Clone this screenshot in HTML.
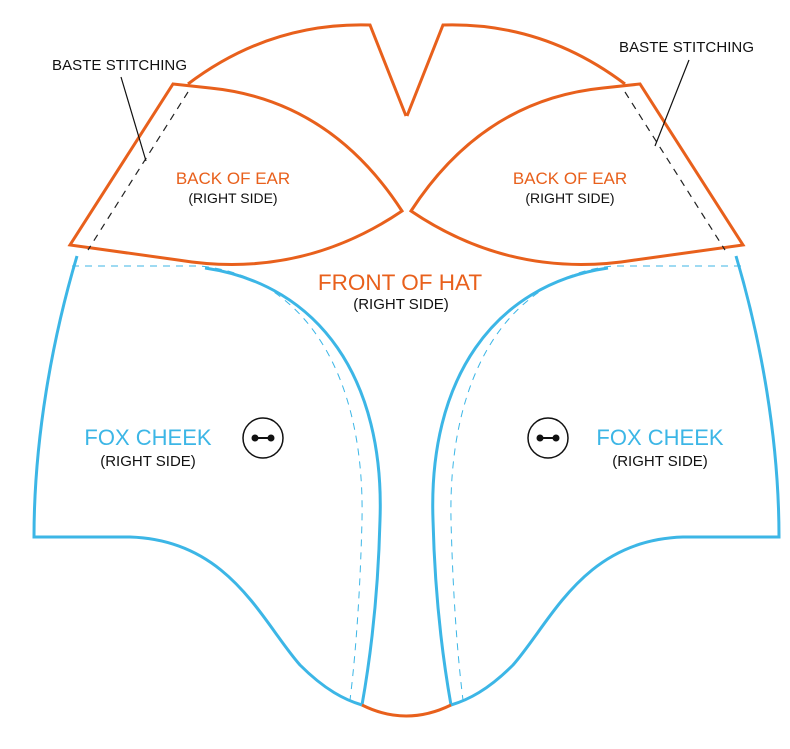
<!DOCTYPE html>
<html><head><meta charset="utf-8"><style>
html,body{margin:0;padding:0;background:#fff;width:790px;height:749px;overflow:hidden}
text{font-family:"Liberation Sans",sans-serif}
</style></head><body>
<svg width="790" height="749" viewBox="0 0 790 749" xmlns="http://www.w3.org/2000/svg">
<defs>
<g id="half">
  <path d="M188,84 Q270,22 370,25 L406,116" fill="none" stroke="#e8601c" stroke-width="3"/>
  <path d="M173,84 L210,88 Q330,100 402,211 Q300,280 178,260 Q120,252 70,245 Z" fill="#fff" stroke="#e8601c" stroke-width="3" stroke-linejoin="miter"/>
  <path d="M188,92 L88,250" stroke="#222" stroke-width="1.2" stroke-dasharray="7,6" fill="none"/>
  <path d="M77,256 C52,340 34,440 34,537 L130,537 C230,540 262,622 300,665 C325,690 345,700 362,705" fill="none" stroke="#3cb6e6" stroke-width="3"/>
  <path d="M205,268 C320,285 385,380 380,520 C378,600 370,660 362,705" fill="none" stroke="#3cb6e6" stroke-width="3"/>
  <path d="M72,266 L200,266 C305,276 365,375 362,520 C360,600 355,660 350,700" fill="none" stroke="#3cb6e6" stroke-width="1" stroke-dasharray="7,6"/>
</g>
</defs>
<use href="#half"/>
<use href="#half" transform="translate(813,0) scale(-1,1)"/>
<path d="M362,705 Q406,727 451,705" fill="none" stroke="#e8601c" stroke-width="3"/>

<g stroke="#111" fill="none">
<circle cx="263" cy="438" r="20" stroke-width="1.5"/>
<line x1="255" y1="438" x2="271" y2="438" stroke-width="2"/>
<circle cx="548" cy="438" r="20" stroke-width="1.5"/>
<line x1="540" y1="438" x2="556" y2="438" stroke-width="2"/>
</g>
<g fill="#111">
<circle cx="255" cy="438" r="3.5"/><circle cx="271" cy="438" r="3.5"/>
<circle cx="540" cy="438" r="3.5"/><circle cx="556" cy="438" r="3.5"/>
</g>

<line x1="121" y1="77" x2="146" y2="161" stroke="#111" stroke-width="1.2"/>
<line x1="689" y1="60" x2="655" y2="146" stroke="#111" stroke-width="1.2"/>

<text x="52" y="70" font-size="15" fill="#111" textLength="135">BASTE STITCHING</text>
<text x="619" y="52" font-size="15" fill="#111" textLength="135">BASTE STITCHING</text>
<text x="233" y="184" font-size="17" fill="#e8601c" text-anchor="middle">BACK OF EAR</text>
<text x="233" y="203" font-size="14" fill="#111" text-anchor="middle">(RIGHT SIDE)</text>
<text x="570" y="184" font-size="17" fill="#e8601c" text-anchor="middle">BACK OF EAR</text>
<text x="570" y="203" font-size="14" fill="#111" text-anchor="middle">(RIGHT SIDE)</text>
<text x="400" y="290" font-size="22.5" fill="#e8601c" text-anchor="middle">FRONT OF HAT</text>
<text x="401" y="309" font-size="15" fill="#111" text-anchor="middle">(RIGHT SIDE)</text>
<text x="148" y="445" font-size="22" fill="#3cb6e6" text-anchor="middle">FOX CHEEK</text>
<text x="148" y="466" font-size="15" fill="#111" text-anchor="middle">(RIGHT SIDE)</text>
<text x="660" y="445" font-size="22" fill="#3cb6e6" text-anchor="middle">FOX CHEEK</text>
<text x="660" y="466" font-size="15" fill="#111" text-anchor="middle">(RIGHT SIDE)</text>
</svg>
</body></html>
